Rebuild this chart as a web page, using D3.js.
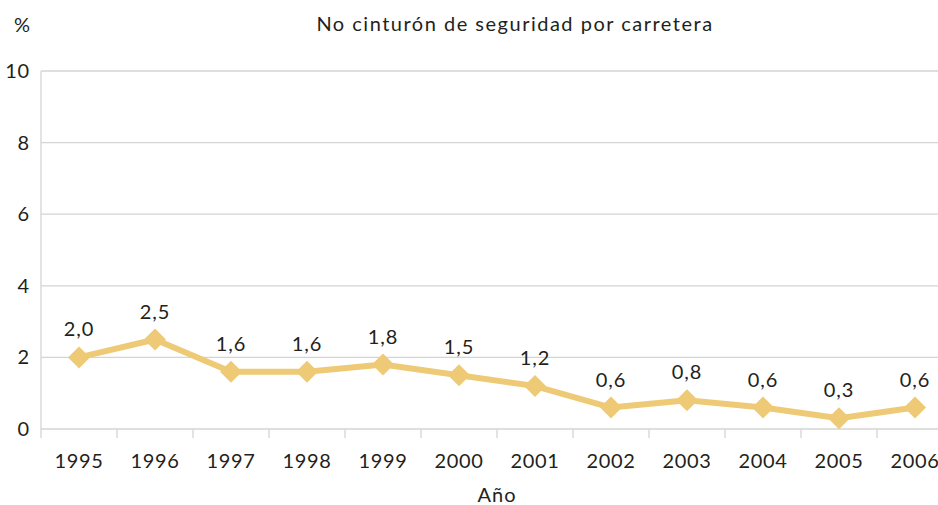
<!DOCTYPE html>
<html>
<head>
<meta charset="utf-8">
<script src="https://cdn.jsdelivr.net/npm/d3@7"></script>
<style>
  body { margin: 0; background: #fff; }
  svg { display: block; font-family: Lato, "Noto Sans", sans-serif; }
</style>
</head>
<body>
<div id="chart"></div>
<script>
// data
const years = ["1995","1996","1997","1998","1999","2000","2001","2002","2003","2004","2005","2006"];
const values = [2.0, 2.5, 1.6, 1.6, 1.8, 1.5, 1.2, 0.6, 0.8, 0.6, 0.3, 0.6];
const yTicks = [0, 2, 4, 6, 8, 10];

const width = 938, height = 505;
const margin = {top: 71, left: 41, bottom: 429};

const svg = d3.select('#chart').append('svg')
  .attr('width', width)
  .attr('height', height);

// band scale runs past the right edge, like the original crop
const x = d3.scaleBand().domain(years).range([margin.left, margin.left + 76 * 12]);
const y = d3.scaleLinear().domain([0, 10]).range([margin.bottom, margin.top]);

// gridlines
svg.append('g')
  .selectAll('line')
  .data(yTicks)
  .join('line')
  .attr('x1', margin.left)
  .attr('x2', width)
  .attr('y1', d => y(d))
  .attr('y2', d => y(d))
  .attr('stroke', '#d4d4d4')
  .attr('stroke-width', 1.3);

// left axis line
svg.append('line')
  .attr('x1', margin.left).attr('x2', margin.left)
  .attr('y1', y(10)).attr('y2', y(0) + 9)
  .attr('stroke', '#d4d4d4')
  .attr('stroke-width', 1.3);

// category tick marks
svg.append('g')
  .selectAll('line')
  .data(years.slice(1))
  .join('line')
  .attr('x1', d => x(d))
  .attr('x2', d => x(d))
  .attr('y1', y(0))
  .attr('y2', y(0) + 9)
  .attr('stroke', '#d4d4d4')
  .attr('stroke-width', 1.3);

// y labels
svg.append('g')
  .selectAll('text')
  .data(yTicks)
  .join('text')
  .attr('x', 30)
  .attr('y', d => y(d) + 7)
  .attr('text-anchor', 'end')
  .attr('font-size', 20)
  .attr('letter-spacing', 0.8)
  .attr('fill', '#231f20')
  .text(d => d);

// x labels
svg.append('g')
  .selectAll('text')
  .data(years)
  .join('text')
  .attr('x', d => x(d) + x.bandwidth() / 2)
  .attr('y', 468)
  .attr('text-anchor', 'middle')
  .attr('font-size', 20)
  .attr('letter-spacing', 0.6)
  .attr('fill', '#231f20')
  .text(d => d);

const pts = years.map((yr, i) => ({year: yr, v: values[i]}));
const cx = d => x(d.year) + x.bandwidth() / 2;

// line
svg.append('path')
  .datum(pts)
  .attr('d', d3.line().x(cx).y(d => y(d.v)))
  .attr('fill', 'none')
  .attr('stroke', '#efca76')
  .attr('stroke-width', 6)
  .attr('stroke-linejoin', 'round');

// diamond markers
svg.append('g')
  .selectAll('path')
  .data(pts)
  .join('path')
  .attr('transform', d => `translate(${cx(d)},${y(d.v)})`)
  .attr('d', 'M0,-11L11,0L0,11L-11,0Z')
  .attr('fill', '#efca76');

// value labels
svg.append('g')
  .selectAll('text')
  .data(pts)
  .join('text')
  .attr('x', cx)
  .attr('y', d => y(d.v) - 21)
  .attr('text-anchor', 'middle')
  .attr('font-size', 20)
  .attr('letter-spacing', 1)
  .attr('fill', '#231f20')
  .text(d => d3.format('.1f')(d.v).replace('.', ','));

// titles
svg.append('text')
  .attr('x', 22).attr('y', 32)
  .attr('text-anchor', 'middle')
  .attr('font-size', 20)
  .attr('fill', '#231f20')
  .text('%');

svg.append('text')
  .attr('x', 515).attr('y', 31)
  .attr('text-anchor', 'middle')
  .attr('font-size', 20)
  .attr('letter-spacing', 1.5)
  .attr('fill', '#231f20')
  .text('No cinturón de seguridad por carretera');

svg.append('text')
  .attr('x', 497).attr('y', 502)
  .attr('text-anchor', 'middle')
  .attr('font-size', 20)
  .attr('letter-spacing', 1)
  .attr('fill', '#231f20')
  .text('Año');
</script>
</body>
</html>
